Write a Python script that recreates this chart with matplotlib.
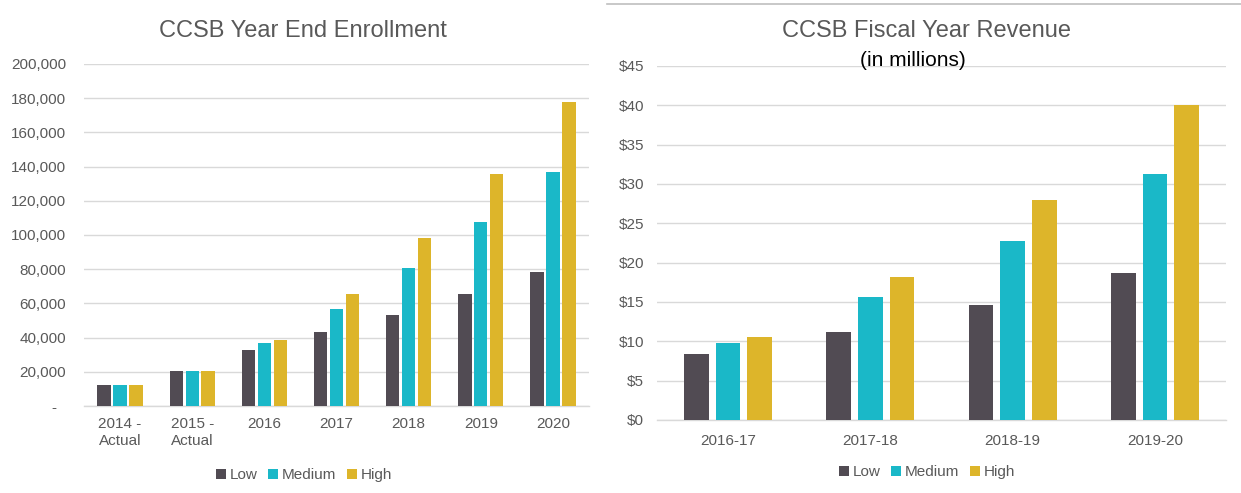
import matplotlib
matplotlib.use("Agg")
import matplotlib.pyplot as plt
import numpy as np
from matplotlib.patches import Patch
from matplotlib.lines import Line2D
from matplotlib.ticker import FuncFormatter, MultipleLocator

plt.rcParams['font.family'] = ['Liberation Sans', 'DejaVu Sans']

# ---- data ----
enroll_categories = ["2014 -\nActual", "2015 -\nActual", "2016", "2017", "2018", "2019", "2020"]
enroll_low = [12500, 20700, 32700, 43300, 53400, 65500, 78400]
enroll_medium = [12500, 20700, 37000, 56900, 80900, 107600, 137000]
enroll_high = [12500, 20700, 38800, 65500, 98000, 135900, 177600]

rev_categories = ["2016-17", "2017-18", "2018-19", "2019-20"]
rev_low = [8.35, 11.2, 14.6, 18.7]
rev_medium = [9.8, 15.6, 22.75, 31.3]
rev_high = [10.5, 18.2, 28.0, 40.0]

series_names = ["Low", "Medium", "High"]
colors = ["#514B53", "#1AB8C8", "#DDB52A"]
text_gray = "#595959"
grid_gray = "#D9D9D9"

W, H = 1241, 493
fig = plt.figure(figsize=(W / 100, H / 100), dpi=100)

def px_axes(x0, x1, ytop, ybot):
    return fig.add_axes([x0 / W, 1 - ybot / H, (x1 - x0) / W, (ybot - ytop) / H])

def style(ax):
    for s in ["top", "right", "left"]:
        ax.spines[s].set_visible(False)
    ax.spines["bottom"].set_color(grid_gray)
    ax.spines["bottom"].set_linewidth(1.0)
    ax.grid(axis="y", color=grid_gray, linewidth=1.0)
    ax.set_axisbelow(True)
    ax.tick_params(axis="both", length=0, labelsize=11, colors=text_gray)

# ---- left chart ----
ax1 = px_axes(84, 589, 64, 406)
x = np.arange(len(enroll_categories))
for i, (vals, c) in enumerate(zip([enroll_low, enroll_medium, enroll_high], colors)):
    ax1.bar(x + (i - 1) * 0.22, vals, width=0.186, color=c, zorder=3)
ax1.set_xlim(-0.5, len(enroll_categories) - 0.5)
ax1.set_ylim(0, 200000)
ax1.yaxis.set_major_locator(MultipleLocator(20000))
ax1.yaxis.set_major_formatter(FuncFormatter(lambda v, p: "-  " if v == 0 else f"{int(v):,}"))
ax1.set_xticks(x)
ax1.set_xticklabels(enroll_categories, linespacing=1.3)
style(ax1)
ax1.tick_params(axis="y", pad=13)
ax1.tick_params(axis="x", pad=8)

# ---- right chart ----
ax2 = px_axes(657, 1226, 66, 420)
x2 = np.arange(len(rev_categories))
for i, (vals, c) in enumerate(zip([rev_low, rev_medium, rev_high], colors)):
    ax2.bar(x2 + (i - 1) * 0.222, vals, width=0.173, color=c, zorder=3)
ax2.set_xlim(-0.5, len(rev_categories) - 0.5)
ax2.set_ylim(0, 45)
ax2.yaxis.set_major_locator(MultipleLocator(5))
ax2.yaxis.set_major_formatter(FuncFormatter(lambda v, p: f"${int(v)}"))
ax2.set_xticks(x2)
ax2.set_xticklabels(rev_categories)
style(ax2)
ax2.tick_params(axis="y", pad=9.4)
ax2.tick_params(axis="x", pad=10)

# ---- titles ----
fig.text(302.5 / W, 1 - 31 / H, "CCSB Year End Enrollment", ha="center", va="center",
         fontsize=17, color=text_gray)
fig.text(926 / W, 1 - 31 / H, "CCSB Fiscal Year Revenue", ha="center", va="center",
         fontsize=17, color=text_gray)
fig.text(913 / W, 1 - 61 / H, "(in millions)", ha="center", va="center",
         fontsize=15, color="black")

# ---- legends ----
handles = [Patch(facecolor=c, edgecolor="none", label=n) for n, c in zip(series_names, colors)]
for cx, cy in [(304, 475), (927, 472)]:
    leg = fig.legend(handles=handles, loc="center", bbox_to_anchor=(cx / W, 1 - cy / H),
                     ncol=3, frameon=False, fontsize=11, handlelength=0.65, handleheight=0.65,
                     handletextpad=0.25, columnspacing=0.7, borderaxespad=0)
    for t in leg.get_texts():
        t.set_color(text_gray)

# ---- top border line on the right panel ----
fig.add_artist(Line2D([607 / W, 1.0], [1 - 4 / H, 1 - 4 / H], color="#BFBFBF", linewidth=1.2))

fig.savefig("out.png", dpi=100)
